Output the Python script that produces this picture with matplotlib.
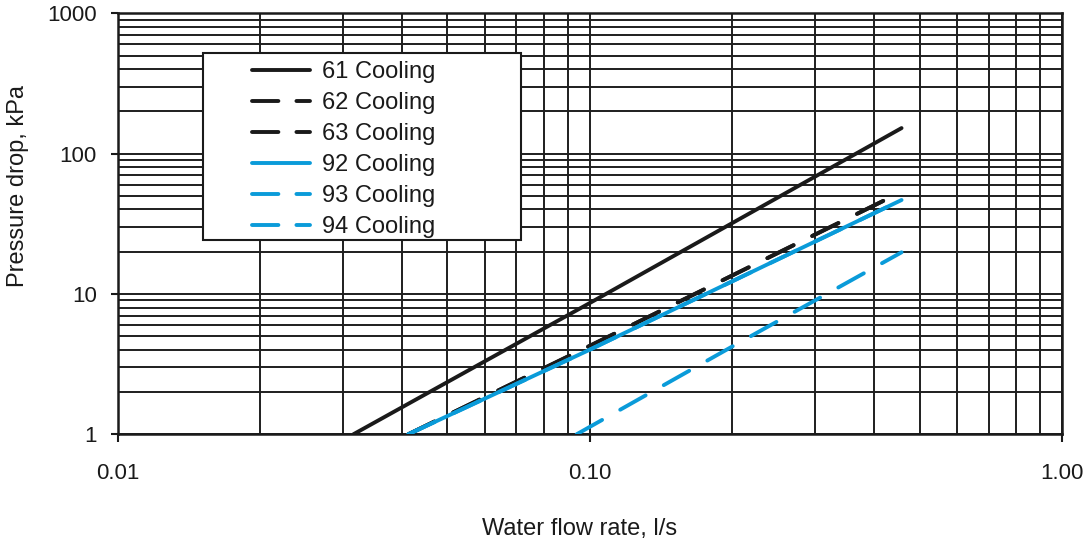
import numpy as np
import matplotlib
matplotlib.use("Agg")
import matplotlib.pyplot as plt
from matplotlib.patches import Rectangle
from matplotlib.ticker import FixedLocator, FixedFormatter, LogLocator, NullFormatter

plt.rcParams['font.family'] = ['Liberation Sans', 'DejaVu Sans']
plt.rcParams['lines.scale_dashes'] = False

# === DATA ===
flow_61 = [0.0316, 0.1, 0.458]
dp_61 = [1.0, 8.6, 152]

flow_62 = [0.0413, 0.1, 0.456]
dp_62 = [1.0, 4.26, 53]

flow_63 = [0.0413, 0.1, 0.456]
dp_63 = [1.0, 4.26, 53]

flow_92 = [0.0413, 0.1, 0.458]
dp_92 = [1.0, 4.0, 46.7]

flow_93 = [0.0413, 0.1, 0.458]
dp_93 = [1.0, 4.0, 46.7]

flow_94 = [0.0939, 0.2, 0.458]
dp_94 = [1.0, 4.2, 19.8]

x_ticks = [0.01, 0.1, 1.0]
x_ticklabels = ['0.01', '0.10', '1.00']
y_ticks = [1, 10, 100, 1000]
y_ticklabels = ['1', '10', '100', '1000']

# === STYLE ===
black = '#1a1a1a'
cyan = '#0a9bd9'
dash = (0, (21, 15))
lw = 2.8

fig = plt.figure(figsize=(10.91, 5.44), dpi=100)
ax = fig.add_axes([0.1077, 0.2017, 0.8654, 0.7739])

ax.set_xscale('log')
ax.set_yscale('log')
ax.set_xlim(0.01, 1.0)
ax.set_ylim(1, 1000)

ax.plot(flow_61, dp_61, color=black, lw=lw, solid_capstyle='round', label='61 Cooling', zorder=3)
ax.plot(flow_62, dp_62, color=black, lw=lw, linestyle=dash, dash_capstyle='round', label='62 Cooling', zorder=3)
ax.plot(flow_63, dp_63, color=black, lw=lw, linestyle=dash, dash_capstyle='round', label='63 Cooling', zorder=3)
ax.plot(flow_92, dp_92, color=cyan, lw=lw, solid_capstyle='round', label='92 Cooling', zorder=3)
ax.plot(flow_93, dp_93, color=cyan, lw=lw, linestyle=dash, dash_capstyle='round', label='93 Cooling', zorder=3)
ax.plot(flow_94, dp_94, color=cyan, lw=lw, linestyle=dash, dash_capstyle='round', label='94 Cooling', zorder=3)

# === AXES / GRID ===
ax.xaxis.set_major_locator(FixedLocator(x_ticks))
ax.xaxis.set_major_formatter(FixedFormatter(x_ticklabels))
ax.yaxis.set_major_locator(FixedLocator(y_ticks))
ax.yaxis.set_major_formatter(FixedFormatter(y_ticklabels))
ax.xaxis.set_minor_locator(LogLocator(base=10, subs=np.arange(2, 10)))
ax.yaxis.set_minor_locator(LogLocator(base=10, subs=np.arange(2, 10)))
ax.xaxis.set_minor_formatter(NullFormatter())
ax.yaxis.set_minor_formatter(NullFormatter())

ax.grid(True, which='both', color='#1e1e1e', lw=1.4)
ax.set_axisbelow(True)
ax.tick_params(which='minor', length=0)
ax.tick_params(axis='x', which='major', direction='out', length=6, width=1.5,
               pad=15, labelsize=16, colors=black)
ax.tick_params(axis='y', which='major', direction='out', length=5, width=1.5,
               pad=10, labelsize=16, colors=black)
for s in ax.spines.values():
    s.set_linewidth(1.8)
    s.set_color(black)

ax.set_xlabel('Water flow rate, l/s', fontsize=17, color=black, va='center')
ax.xaxis.set_label_coords(0.489, -0.225)
ax.set_ylabel('Pressure drop, kPa', fontsize=17, color=black, va='center')
ax.yaxis.set_label_coords(-0.1056, 0.589)

# === LEGEND ===
ax.add_patch(Rectangle((0.0902, 0.4615), 0.4270 - 0.0902, 0.9064 - 0.4615,
                       transform=ax.transAxes, facecolor='white', edgecolor=black,
                       lw=1.5, zorder=4))
leg = ax.legend(loc='center left', bbox_to_anchor=(0.1424, 0.6766), frameon=False,
                fontsize=17, handlelength=2.46, handletextpad=0.5, labelspacing=0.38,
                borderpad=0, borderaxespad=0)
leg.set_zorder(5)
for line in leg.get_lines():
    if line.get_linestyle() != '-':
        line.set_linestyle((0, (19, 13)))
for t in leg.get_texts():
    t.set_color(black)

fig.savefig('out.png', dpi=100)
